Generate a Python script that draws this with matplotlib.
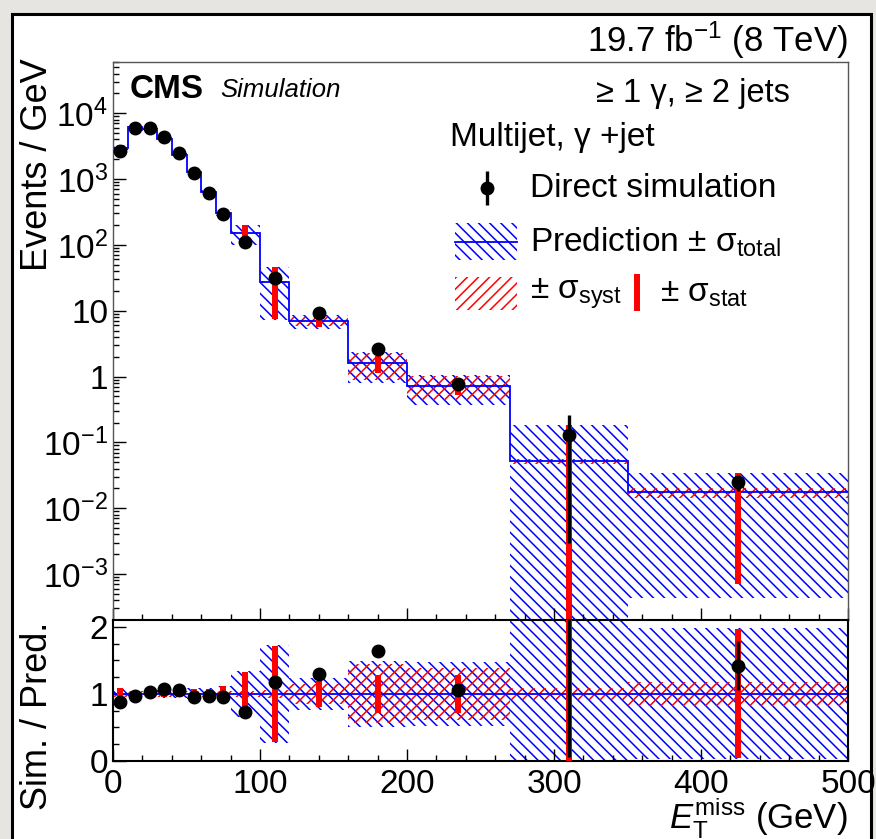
import numpy as np
import matplotlib
matplotlib.use("Agg")
import matplotlib.pyplot as plt
from matplotlib.patches import Rectangle
from matplotlib.ticker import FixedLocator, MultipleLocator, FuncFormatter, LogLocator, NullFormatter

plt.rcParams['font.family'] = ['Liberation Sans', 'DejaVu Sans']
plt.rcParams['mathtext.fontset'] = 'custom'
plt.rcParams['mathtext.rm'] = 'Liberation Sans'
plt.rcParams['mathtext.it'] = 'Liberation Sans:italic'
plt.rcParams['mathtext.bf'] = 'Liberation Sans:bold'
plt.rcParams['hatch.linewidth'] = 1.1

# ======================================================================================================
# MET binning (GeV) and contents (events / GeV)
bin_edges = np.array([0, 10, 20, 30, 40, 50, 60, 70, 80, 100, 120, 160, 200, 270, 350, 500])
pred = np.array([3000, 6100, 5700, 4100, 2350, 1270, 640, 310, 152, 27, 7.0, 1.58, 0.72, 0.052, 0.0174])
sim = np.array([2640, 5920, 5870, 4390, 2490, 1220, 620, 295, 111, 31.9, 9.1, 2.58, 0.763, 0.130, 0.0247])
sim_err = np.array([20, 30, 30, 25, 20, 12, 8, 5, 3, 1.5, 0.4, 0.13, 0.04, 0.127, 0.0063])

# relative uncertainties of the prediction
rel_stat = np.array([0.08, 0.03, 0.03, 0.04, 0.04, 0.07, 0.07, 0.11, 0.33, 0.72, 0.19, 0.28, 0.28, 2.55, 0.96])
rel_syst = np.array([0.04, 0.04, 0.04, 0.04, 0.04, 0.04, 0.04, 0.04, 0.05, 0.06, 0.15, 0.44, 0.39, 0.09, 0.18])
rel_total = np.array([0.09, 0.05, 0.05, 0.06, 0.06, 0.08, 0.08, 0.12, 0.34, 0.73, 0.24, 0.49, 0.48, 2.56, 0.975])

centers = 0.5 * (bin_edges[1:] + bin_edges[:-1])
widths = np.diff(bin_edges)
ratio = sim / pred
ratio_err = sim_err / pred

BLUE = (0, 0, 1)
RED = (1, 0, 0)

fig = plt.figure(figsize=(8.76, 8.39), dpi=100, facecolor='#e7e5e1')
W, H = 876.0, 839.0

# white sheet with black frame
fig.add_artist(Rectangle((11.5 / W, -0.05), (870.5 - 11.5) / W, 1 - 13.5 / H + 0.05,
                         transform=fig.transFigure, facecolor='white', edgecolor='black',
                         lw=2.2, zorder=-1))

ax = fig.add_axes([113 / W, (H - 620) / H, 735 / W, 558 / H])
ax2 = fig.add_axes([113 / W, (H - 761) / H, 735 / W, 141 / H], sharex=ax)

# ---- upper panel
ax.set_yscale('log')
lo = np.clip(pred * (1 - rel_total), 1e-7, None)
ax.bar(bin_edges[:-1], pred * (1 + rel_total) - lo, width=widths, bottom=lo, align='edge',
       facecolor='none', edgecolor=BLUE, hatch='\\\\\\', linewidth=0, zorder=1)
lo = np.clip(pred * (1 - rel_syst), 1e-7, None)
ax.bar(bin_edges[:-1], pred * (1 + rel_syst) - lo, width=widths, bottom=lo, align='edge',
       facecolor='none', edgecolor=RED, hatch='///', linewidth=0, zorder=1)
ax.stairs(pred, bin_edges, color=BLUE, lw=1.3, baseline=None, zorder=2)
ax.vlines(centers, np.clip(pred * (1 - rel_stat), 1e-7, None), pred * (1 + rel_stat),
          color=RED, lw=4.3, zorder=3)
ax.errorbar(centers, sim, yerr=sim_err, fmt='o', color='black', ms=9, elinewidth=2.4,
            capsize=0, zorder=4)

ax.set_xlim(0, 500)
ax.set_ylim(2e-4, 6e4)


def log_fmt(v, pos):
    e = int(round(np.log10(v)))
    if e == 0:
        return '1'
    if e == 1:
        return '10'
    return r'$10^{%d}$' % e


ax.yaxis.set_major_locator(LogLocator(base=10, numticks=20))
ax.yaxis.set_minor_locator(LogLocator(base=10, subs=np.arange(2, 10), numticks=20))
ax.yaxis.set_major_formatter(FuncFormatter(log_fmt))
ax.yaxis.set_minor_formatter(NullFormatter())
ax.xaxis.set_major_locator(MultipleLocator(100))
ax.xaxis.set_minor_locator(MultipleLocator(20))
ax.tick_params(which='both', direction='in', top=False, right=False, labelbottom=False,
               labelsize=24, width=1)
ax.tick_params(which='major', length=9)
ax.tick_params(which='minor', length=4.5)
for s in ax.spines.values():
    s.set_color('#555555')
    s.set_linewidth(1)

# texts
ax.text(0.023, 0.950, 'CMS', transform=ax.transAxes, fontsize=24, fontweight='bold',
        ha='left', va='center')
ax.text(0.146, 0.950, 'Simulation', transform=ax.transAxes, fontsize=18.5, style='italic',
        ha='left', va='center')
ax.text(0.921, 0.944, '≥ 1 γ, ≥ 2 jets', transform=ax.transAxes, fontsize=23.5,
        ha='right', va='center')
ax.text(0.459, 0.864, 'Multijet, γ +jet', transform=ax.transAxes, fontsize=24,
        ha='left', va='center')

# legend
ax.errorbar([0.509], [0.774], yerr=[0.03], fmt='o', color='black', ms=9, elinewidth=2.4,
            capsize=0, transform=ax.transAxes, clip_on=False)
ax.text(0.567, 0.774, 'Direct simulation', transform=ax.transAxes, fontsize=24,
        ha='left', va='center')
ax.add_patch(Rectangle((0.465, 0.645), 0.085, 0.066, transform=ax.transAxes,
                       facecolor='none', edgecolor=BLUE, hatch='\\\\\\', linewidth=0))
ax.plot([0.465, 0.550], [0.678, 0.678], color=BLUE, lw=1.3, transform=ax.transAxes)
ax.text(0.567, 0.677, r'Prediction ± σ$_{\mathrm{total}}$', transform=ax.transAxes,
        fontsize=24, ha='left', va='center')
ax.add_patch(Rectangle((0.465, 0.556), 0.085, 0.059, transform=ax.transAxes,
                       facecolor='none', edgecolor=RED, hatch='///', linewidth=0))
ax.text(0.567, 0.585, r'± σ$_{\mathrm{syst}}$', transform=ax.transAxes,
        fontsize=24, ha='left', va='center')
ax.plot([0.713, 0.713], [0.560, 0.614], color=RED, lw=4.3, transform=ax.transAxes)
ax.text(0.744, 0.585, r'± σ$_{\mathrm{stat}}$', transform=ax.transAxes,
        fontsize=24, ha='left', va='center')

# ---- ratio panel
ax2.bar(bin_edges[:-1], 2 * rel_total, width=widths, bottom=1 - rel_total, align='edge',
        facecolor='none', edgecolor=BLUE, hatch='\\\\\\', linewidth=0, zorder=1)
ax2.bar(bin_edges[:-1], 2 * rel_syst, width=widths, bottom=1 - rel_syst, align='edge',
        facecolor='none', edgecolor=RED, hatch='///', linewidth=0, zorder=1)
ax2.stairs(np.ones(len(pred)), bin_edges, color=BLUE, lw=1.3, baseline=None, zorder=2)
ax2.vlines(centers, 1 - rel_stat, 1 + rel_stat, color=RED, lw=4.3, zorder=3)
ax2.errorbar(centers, ratio, yerr=ratio_err, fmt='o', color='black', ms=9, elinewidth=2.4,
             capsize=0, zorder=4)
ax2.set_ylim(0, 2.1)
ax2.yaxis.set_major_locator(FixedLocator([0, 1, 2]))
ax2.yaxis.set_minor_locator(MultipleLocator(0.25))
ax2.tick_params(which='both', direction='in', top=False, right=False, labelsize=24, width=1)
ax2.tick_params(which='major', length=9)
ax2.tick_params(which='minor', length=4.5)
ax2.tick_params(axis='x', pad=6)
for s in ax2.spines.values():
    s.set_color('black')
    s.set_linewidth(1.5)

# axis titles
fig.text(38 / W, 1 - 58 / H, 'Events / GeV', rotation=90, ha='center', va='top', fontsize=26)
fig.text(38 / W, 1 - 622 / H, 'Sim. / Pred.', rotation=90, ha='center', va='top', fontsize=26)
fig.text(848 / W, 1 - 818 / H, r'$E_{\mathrm{T}}^{\mathrm{miss}}$ (GeV)', ha='right',
         va='center', fontsize=25)
fig.text(848 / W, 1 - 40 / H, r'19.7 fb$^{-1}$ (8 TeV)', ha='right', va='center', fontsize=25)

fig.savefig('out.png', dpi=100, facecolor=fig.get_facecolor())
